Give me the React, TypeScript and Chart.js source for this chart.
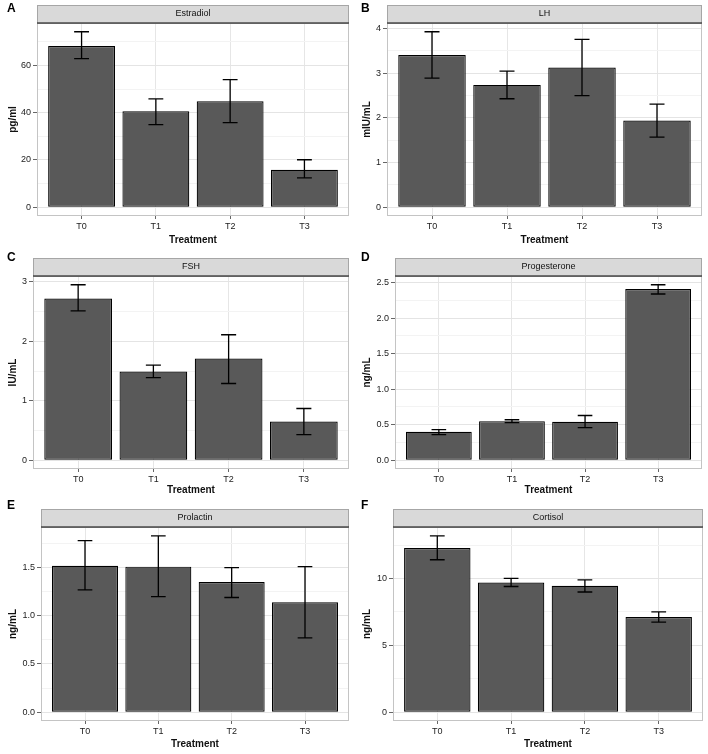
import { useEffect, useRef } from "react";
import { Chart, registerables } from "chart.js";

Chart.register(...registerables);

const treatments = ["T0", "T1", "T2", "T3"];

// A - Estradiol
const estradiolMean = [68.3, 40.6, 44.9, 15.9];
const estradiolLow = [62.9, 35.0, 35.8, 12.4];
const estradiolHigh = [74.3, 45.9, 54.0, 20.1];
const estradiolTicks = [0, 20, 40, 60];

// B - LH
const lhMean = [3.41, 2.74, 3.13, 1.94];
const lhLow = [2.89, 2.43, 2.5, 1.57];
const lhHigh = [3.93, 3.05, 3.76, 2.31];
const lhTicks = [0, 1, 2, 3, 4];

// C - FSH
const fshMean = [2.72, 1.49, 1.71, 0.65];
const fshLow = [2.51, 1.39, 1.29, 0.43];
const fshHigh = [2.95, 1.6, 2.11, 0.87];
const fshTicks = [0, 1, 2, 3];

// D - Progesterone
const progMean = [0.4, 0.55, 0.54, 2.41];
const progLow = [0.36, 0.53, 0.46, 2.34];
const progHigh = [0.43, 0.57, 0.63, 2.47];
const progTicks = [0, 0.5, 1.0, 1.5, 2.0, 2.5];

// E - Prolactin
const prolMean = [1.52, 1.51, 1.35, 1.14];
const prolLow = [1.27, 1.2, 1.19, 0.77];
const prolHigh = [1.78, 1.83, 1.5, 1.51];
const prolTicks = [0, 0.5, 1.0, 1.5];

// F - Cortisol
const cortMean = [12.27, 9.7, 9.46, 7.11];
const cortLow = [11.4, 9.4, 8.99, 6.74];
const cortHigh = [13.19, 10.0, 9.9, 7.5];
const cortTicks = [0, 5, 10];

const FONT = "'Liberation Sans', Arial, sans-serif";

interface PanelProps {
  letter: string;
  letterY: number;
  title: string;
  unit: string;
  mean: number[];
  low: number[];
  high: number[];
  ticks: number[];
  decimals: number;
  x: number;
  y: number;
  w: number;
  h: number;
  left: number;
  top: number;
  bottom: number;
  right: number;
}

const facetPlugin = {
  id: "facet",
  beforeDraw(chart: any) {
    const { ctx } = chart;
    ctx.save();
    ctx.fillStyle = "#ffffff";
    ctx.fillRect(0, 0, chart.width, chart.height);
    ctx.restore();
  },
  afterDatasetsDraw(chart: any, _args: any, opts: any) {
    const { ctx } = chart;
    const xs = chart.scales.x;
    const ys = chart.scales.y;
    const half = xs.getPixelForValue(1.1) - xs.getPixelForValue(1);
    ctx.save();
    ctx.strokeStyle = "#000000";
    ctx.lineWidth = 1.3;
    opts.low.forEach((lo: number, i: number) => {
      const cx = xs.getPixelForValue(i + 1);
      const yl = ys.getPixelForValue(lo);
      const yh = ys.getPixelForValue(opts.high[i]);
      ctx.beginPath();
      ctx.moveTo(cx, yl);
      ctx.lineTo(cx, yh);
      ctx.moveTo(cx - half, yl);
      ctx.lineTo(cx + half, yl);
      ctx.moveTo(cx - half, yh);
      ctx.lineTo(cx + half, yh);
      ctx.stroke();
    });
    ctx.restore();
  },
  afterDraw(chart: any, _args: any, opts: any) {
    const { ctx, chartArea: a } = chart;
    const sh = 18;
    ctx.save();
    // panel border
    ctx.strokeStyle = "#c4c4c4";
    ctx.lineWidth = 1;
    ctx.strokeRect(a.left + 0.5, a.top + 0.5, a.right - a.left - 1, a.bottom - a.top - 1);
    // strip
    ctx.fillStyle = "#d9d9d9";
    ctx.fillRect(a.left, a.top - sh, a.right - a.left, sh);
    ctx.strokeStyle = "#a6a6a6";
    ctx.strokeRect(a.left + 0.5, a.top - sh + 0.5, a.right - a.left - 1, sh);
    ctx.strokeStyle = "#4a4a4a";
    ctx.lineWidth = 1.5;
    ctx.beginPath();
    ctx.moveTo(a.left, a.top);
    ctx.lineTo(a.right, a.top);
    ctx.stroke();
    ctx.fillStyle = "#111111";
    ctx.font = `9px ${FONT}`;
    ctx.textAlign = "center";
    ctx.textBaseline = "middle";
    ctx.fillText(opts.title, (a.left + a.right) / 2, a.top - sh / 2);
    // panel letter
    ctx.font = `bold 12px ${FONT}`;
    ctx.textAlign = "left";
    ctx.textBaseline = "top";
    ctx.fillStyle = "#000000";
    ctx.fillText(opts.letter, 7, opts.letterY);
    ctx.restore();
  },
};

function Panel(p: PanelProps) {
  const chartRef = useRef<HTMLCanvasElement>(null);

  useEffect(() => {
    if (!chartRef.current) return;
    const top = Math.max(...p.high);
    const step = p.ticks[1] - p.ticks[0];
    const yMin = -top * 0.05;
    const yMax = top * 1.05;
    const yTicks: any[] = [];
    p.ticks.forEach((t) => {
      yTicks.push({ value: t, minor: false });
      if (t + step / 2 <= yMax) yTicks.push({ value: t + step / 2, minor: true });
    });

    const chart = new Chart(chartRef.current, {
      type: "bar",
      data: {
        datasets: [
          {
            data: p.mean.map((v, i) => ({ x: i + 1, y: v })),
            backgroundColor: "#595959",
            borderColor: "#000000",
            borderWidth: 1.2,
            borderSkipped: false,
            barPercentage: 0.9,
            categoryPercentage: 1,
          },
        ],
      },
      options: {
        responsive: false,
        animation: false,
        events: [],
        layout: { padding: { top: p.top, right: p.w - p.right, left: 0, bottom: 0 } },
        plugins: {
          legend: { display: false },
          tooltip: { enabled: false },
          facet: { title: p.title, letter: p.letter, letterY: p.letterY, low: p.low, high: p.high },
        } as any,
        scales: {
          x: {
            type: "linear",
            min: 0.4,
            max: 4.6,
            offset: false,
            afterBuildTicks: (s: any) => {
              s.ticks = treatments.map((_, i) => ({ value: i + 1 }));
            },
            afterFit: (s: any) => {
              s.height = p.h - p.bottom;
            },
            ticks: {
              autoSkip: false,
              maxRotation: 0,
              padding: 2,
              color: "#222222",
              font: { family: FONT, size: 9 },
              callback: (v: any) => treatments[Math.round(v) - 1] ?? "",
            },
            grid: { offset: false, color: "#e6e6e6", tickColor: "#666666", tickLength: 3, lineWidth: 1 },
            border: { display: false },
            title: {
              display: true,
              text: "Treatment",
              color: "#111111",
              font: { family: FONT, size: 10, weight: "bold" },
              padding: { top: 0, bottom: 4 },
            },
          },
          y: {
            type: "linear",
            min: yMin,
            max: yMax,
            bounds: "data",
            afterBuildTicks: (s: any) => {
              s.ticks = yTicks.map((t) => ({ ...t }));
            },
            afterFit: (s: any) => {
              s.width = p.left;
            },
            ticks: {
              autoSkip: false,
              padding: 2,
              color: "#222222",
              font: { family: FONT, size: 9 },
              callback: function (this: any, v: any, i: number) {
                return this.ticks[i]?.minor ? "" : Number(v).toFixed(p.decimals);
              },
            },
            grid: {
              color: (c: any) => (c.tick?.minor ? "#f3f3f3" : "#e4e4e4"),
              tickColor: (c: any) => (c.tick?.minor ? "rgba(0,0,0,0)" : "#666666"),
              tickLength: 4,
              lineWidth: 1,
            },
            border: { display: false },
            title: {
              display: true,
              text: p.unit,
              color: "#111111",
              font: { family: FONT, size: 10, weight: "bold" },
              padding: { top: 7, bottom: 0 },
            },
          },
        },
      },
      plugins: [facetPlugin],
    } as any);

    return () => {
      chart.destroy();
    };
  }, []);

  return (
    <div style={{ position: "absolute", left: p.x, top: p.y, width: p.w, height: p.h }}>
      <canvas ref={chartRef} width={p.w} height={p.h}></canvas>
    </div>
  );
}

export default function App() {
  return (
    <div style={{ position: "absolute", left: 0, top: 0, width: 708, height: 754, background: "#ffffff" }}>
      <Panel letter="A" letterY={3} title="Estradiol" unit="pg/ml" mean={estradiolMean} low={estradiolLow} high={estradiolHigh}
        ticks={estradiolTicks} decimals={0} x={0} y={0} w={354} h={250} left={37} top={23} bottom={216} right={349} />
      <Panel letter="B" letterY={3} title="LH" unit="mIU/mL" mean={lhMean} low={lhLow} high={lhHigh}
        ticks={lhTicks} decimals={0} x={354} y={0} w={354} h={250} left={33} top={23} bottom={216} right={348} />
      <Panel letter="C" letterY={2} title="FSH" unit="IU/mL" mean={fshMean} low={fshLow} high={fshHigh}
        ticks={fshTicks} decimals={0} x={0} y={250} w={354} h={250} left={33} top={26} bottom={219} right={349} />
      <Panel letter="D" letterY={2} title="Progesterone" unit="ng/mL" mean={progMean} low={progLow} high={progHigh}
        ticks={progTicks} decimals={1} x={354} y={250} w={354} h={250} left={41} top={26} bottom={219} right={348} />
      <Panel letter="E" letterY={0} title="Prolactin" unit="ng/mL" mean={prolMean} low={prolLow} high={prolHigh}
        ticks={prolTicks} decimals={1} x={0} y={500} w={354} h={254} left={41} top={27} bottom={221} right={349} />
      <Panel letter="F" letterY={0} title="Cortisol" unit="ng/mL" mean={cortMean} low={cortLow} high={cortHigh}
        ticks={cortTicks} decimals={0} x={354} y={500} w={354} h={254} left={39} top={27} bottom={221} right={349} />
    </div>
  );
}
